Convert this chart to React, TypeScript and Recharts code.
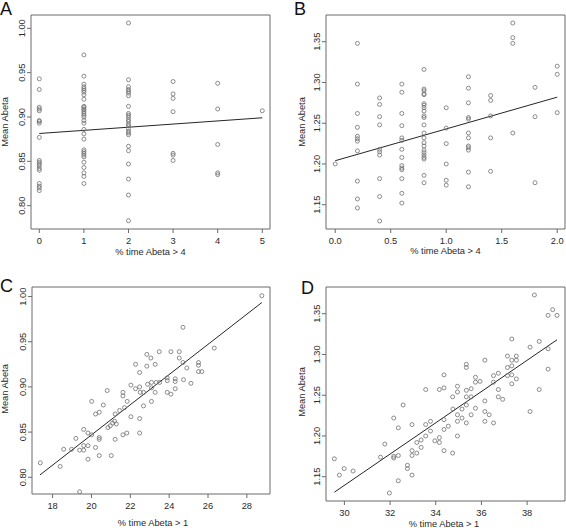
import React from 'react';
import { ScatterChart, Scatter, XAxis, YAxis, ReferenceArea, ReferenceLine } from 'recharts';

// ---------- data ----------
// Panel A: % time Abeta > 4 (integer groups) vs Mean Abeta
const aGroups = [0, 1, 2, 3, 4, 5];
const aValues = [
  [0.943, 0.931, 0.911, 0.909, 0.907, 0.896, 0.895, 0.893, 0.877, 0.851, 0.849, 0.847, 0.845, 0.842, 0.840, 0.825, 0.822, 0.820, 0.817],
  [0.970, 0.946, 0.937, 0.934, 0.932, 0.930, 0.928, 0.925, 0.920, 0.912, 0.911, 0.909, 0.908, 0.906, 0.904, 0.902, 0.900, 0.896, 0.893, 0.886, 0.881, 0.875, 0.863, 0.861, 0.859, 0.857, 0.855, 0.849, 0.843, 0.837, 0.833, 0.825],
  [1.006, 0.942, 0.934, 0.931, 0.929, 0.927, 0.924, 0.912, 0.904, 0.902, 0.900, 0.897, 0.895, 0.892, 0.890, 0.887, 0.884, 0.882, 0.880, 0.867, 0.862, 0.847, 0.830, 0.812, 0.783],
  [0.940, 0.926, 0.921, 0.906, 0.859, 0.857, 0.851],
  [0.938, 0.909, 0.869, 0.837, 0.835],
  [0.907],
];
const aFit = [0, 0.8814, 5, 0.8991];

// Panel B
const bGroups = [0, 0.2, 0.4, 0.6, 0.8, 1.0, 1.2, 1.4, 1.6, 1.8, 2.0];
const bValues = [
  [1.200],
  [1.348, 1.298, 1.262, 1.245, 1.234, 1.231, 1.228, 1.216, 1.179, 1.157, 1.146],
  [1.281, 1.273, 1.258, 1.248, 1.218, 1.215, 1.211, 1.182, 1.160, 1.130],
  [1.298, 1.288, 1.262, 1.247, 1.232, 1.229, 1.218, 1.208, 1.198, 1.195, 1.193, 1.182, 1.164, 1.152],
  [1.316, 1.292, 1.290, 1.286, 1.285, 1.274, 1.272, 1.269, 1.265, 1.259, 1.257, 1.248, 1.238, 1.232, 1.226, 1.222, 1.217, 1.214, 1.211, 1.208, 1.206, 1.186, 1.177],
  [1.269, 1.244, 1.225, 1.200, 1.180, 1.174],
  [1.307, 1.293, 1.275, 1.257, 1.255, 1.238, 1.232, 1.222, 1.220, 1.217, 1.190, 1.172],
  [1.284, 1.278, 1.259, 1.232, 1.191],
  [1.373, 1.355, 1.348, 1.238],
  [1.294, 1.258, 1.177],
  [1.320, 1.310, 1.263],
];
const bFit = [0, 1.204, 2, 1.282];

// Panel C: % time Abeta > 1 vs Mean Abeta
const cPoints = [
  [17.37, 0.816], [18.39, 0.812], [18.57, 0.831], [18.98, 0.831], [19.20, 0.843], [19.39, 0.830], [19.39, 0.784],
  [19.60, 0.853], [19.60, 0.835], [19.60, 0.830], [19.82, 0.849], [19.82, 0.835], [19.82, 0.820], [20.01, 0.884],
  [20.01, 0.847], [20.21, 0.870], [20.21, 0.833], [20.40, 0.872], [20.40, 0.844], [20.40, 0.842], [20.40, 0.824],
  [20.61, 0.880], [20.81, 0.896], [20.85, 0.855], [20.97, 0.857], [21.02, 0.824], [21.09, 0.860], [21.19, 0.862],
  [21.22, 0.870], [21.22, 0.842], [21.28, 0.859], [21.45, 0.874], [21.62, 0.894], [21.62, 0.890], [21.62, 0.847],
  [21.70, 0.877], [21.82, 0.849], [21.84, 0.884], [22.03, 0.902], [22.03, 0.867], [22.27, 0.925], [22.27, 0.898],
  [22.48, 0.916], [22.48, 0.900], [22.48, 0.865], [22.48, 0.849], [22.51, 0.894], [22.68, 0.894], [22.68, 0.879],
  [22.85, 0.936], [22.85, 0.923], [22.89, 0.903], [28.77, 1.001], [24.71, 0.966], [26.32, 0.943], [23.49, 0.939],
  [24.09, 0.939], [24.52, 0.939], [24.52, 0.932], [23.06, 0.932], [23.28, 0.925], [24.71, 0.927], [24.91, 0.921],
  [25.51, 0.927], [25.51, 0.924], [25.51, 0.917], [25.68, 0.917], [23.09, 0.905], [23.33, 0.905], [23.51, 0.905],
  [23.90, 0.910], [23.90, 0.907], [24.31, 0.909], [24.31, 0.906], [24.74, 0.908], [25.12, 0.904], [24.31, 0.898],
  [23.90, 0.894], [24.09, 0.892], [23.28, 0.894], [23.09, 0.899], [23.09, 0.884],
];
const cFit = [17.35, 0.8026, 28.77, 0.9934];

// Panel D
const dPoints = [
  [29.56, 1.172], [29.78, 1.152], [29.99, 1.160], [30.38, 1.157], [31.58, 1.174], [31.77, 1.190], [31.97, 1.130],
  [32.16, 1.222], [32.16, 1.175], [32.16, 1.173], [32.36, 1.210], [32.36, 1.176], [32.36, 1.145], [32.57, 1.238],
  [32.76, 1.164], [32.76, 1.160], [32.96, 1.214], [32.96, 1.182], [32.96, 1.176], [32.96, 1.152], [33.17, 1.179],
  [33.17, 1.192], [33.36, 1.195], [33.36, 1.186], [33.56, 1.257], [33.56, 1.214], [33.56, 1.200], [33.77, 1.218],
  [33.77, 1.206], [33.96, 1.194], [34.16, 1.257], [34.16, 1.198], [34.16, 1.192], [34.36, 1.275], [34.36, 1.259],
  [34.36, 1.220], [34.36, 1.208], [34.36, 1.182], [34.55, 1.212], [34.74, 1.179], [34.74, 1.248], [34.75, 1.233],
  [34.95, 1.261], [34.95, 1.254], [34.95, 1.226], [34.95, 1.218], [34.95, 1.200], [35.15, 1.233], [35.15, 1.222],
  [35.34, 1.288], [35.34, 1.284], [35.34, 1.256], [35.34, 1.248], [35.34, 1.238], [35.34, 1.216], [35.55, 1.258],
  [35.55, 1.248], [35.55, 1.226], [35.74, 1.272], [35.74, 1.266], [35.74, 1.234], [35.94, 1.267], [36.15, 1.293],
  [36.15, 1.243], [36.15, 1.230], [36.15, 1.218], [36.34, 1.226], [36.53, 1.274], [36.53, 1.266], [36.53, 1.216],
  [36.74, 1.277], [36.74, 1.257], [36.74, 1.248], [36.93, 1.245], [37.14, 1.298], [37.14, 1.284], [37.14, 1.274],
  [37.33, 1.319], [37.33, 1.293], [37.33, 1.286], [37.33, 1.275], [37.33, 1.264], [37.53, 1.298], [37.53, 1.293],
  [37.53, 1.270], [38.13, 1.309], [38.13, 1.230], [38.32, 1.373], [38.53, 1.316], [38.53, 1.257], [38.92, 1.348],
  [38.92, 1.307], [38.92, 1.282], [39.12, 1.355], [39.31, 1.348],
];
const dFit = [29.56, 1.131, 39.31, 1.318];

const xTicksA = [0, 1, 2, 3, 4, 5];
const xTicksB = [0, 0.5, 1, 1.5, 2];
const xTicksC = [18, 20, 22, 24, 26, 28];
const xTicksD = [30, 32, 34, 36, 38];
const yTicksAC = [0.8, 0.85, 0.9, 0.95, 1.0];
const yTicksBD = [1.15, 1.2, 1.25, 1.3, 1.35];

const xTitle4 = '% time Abeta > 4';
const xTitle1 = '% time Abeta > 1';
const yTitle = 'Mean Abeta';

// ---------- styling ----------
const FONT = '"Liberation Sans", Arial, Helvetica, sans-serif';
const BOX = '#6a6a6a';
const TXT = '#2a2a2a';
const FS = 9.3;

const fromGroups = (groups: number[], vals: number[][]) =>
  groups.flatMap((g, i) => vals[i].map((v) => ({ x: g, y: v })));
const fromPairs = (pairs: number[][]) => pairs.map(([x, y]) => ({ x, y }));

const Circ = (props: any) => {
  if (props.cx == null || props.cy == null) return null;
  return <circle cx={props.cx} cy={props.cy} r={2} fill="none" stroke="#707070" strokeWidth={0.8} />;
};

const makeYTick = (fmt: (v: number) => string) => (p: any) => {
  const { x, y, payload } = p;
  return (
    <text
      x={x}
      y={y}
      transform={`rotate(-90 ${x} ${y})`}
      textAnchor="middle"
      fontSize={FS}
      fill={TXT}
      fontFamily={FONT}
    >
      {fmt(payload.value)}
    </text>
  );
};

type Box = { x: number; y: number; w: number; h: number };

function Panel(props: {
  box: Box;
  xDomain: [number, number];
  yDomain: [number, number];
  xTicks: number[];
  yTicks: number[];
  xFmt: (v: number) => string;
  yFmt: (v: number) => string;
  points: { x: number; y: number }[];
  fit: number[];
}) {
  const { box, xDomain, yDomain, xTicks, yTicks, xFmt, yFmt, points, fit } = props;
  const padL = 26, padT = 3, padR = 3, padB = 22;
  return (
    <div style={{ position: 'absolute', left: box.x - padL, top: box.y - padT }}>
      <ScatterChart
        width={box.w + padL + padR}
        height={box.h + padT + padB}
        margin={{ top: padT, right: padR, bottom: 0, left: 0 }}
      >
        <XAxis
          type="number"
          dataKey="x"
          domain={xDomain}
          ticks={xTicks}
          tickFormatter={xFmt}
          allowDataOverflow
          axisLine={false}
          tickLine={{ stroke: BOX }}
          tickSize={4}
          tickMargin={4}
          height={padB}
          interval={0}
          tick={{ fontSize: FS, fill: TXT, fontFamily: FONT }}
        />
        <YAxis
          type="number"
          dataKey="y"
          domain={yDomain}
          ticks={yTicks}
          width={padL}
          allowDataOverflow
          axisLine={false}
          tickLine={{ stroke: BOX }}
          tickSize={4}
          tickMargin={2}
          interval={0}
          tick={makeYTick(yFmt)}
        />
        <ReferenceArea
          x1={xDomain[0]}
          x2={xDomain[1]}
          y1={yDomain[0]}
          y2={yDomain[1]}
          fill="none"
          fillOpacity={0}
          stroke={BOX}
          strokeWidth={1}
          ifOverflow="visible"
        />
        <Scatter data={points} isAnimationActive={false} shape={Circ} />
        <ReferenceLine
          segment={[{ x: fit[0], y: fit[1] }, { x: fit[2], y: fit[3] }]}
          stroke="#262626"
          strokeWidth={1}
          ifOverflow="visible"
        />
      </ScatterChart>
    </div>
  );
}

const int = (v: number) => String(v);
const one = (v: number) => v.toFixed(1);
const two = (v: number) => v.toFixed(2);

export default function App() {
  const tStyle = { fontSize: FS, fill: TXT, fontFamily: FONT } as any;
  const lStyle = { fontSize: 18, fill: '#111', fontFamily: FONT } as any;
  return (
    <div
      style={{
        position: 'absolute',
        left: 0,
        top: 0,
        width: 566,
        height: 528,
        overflow: 'hidden',
        background: '#fff',
      }}
    >
      <Panel
        box={{ x: 31, y: 15, w: 239, h: 214 }}
        xDomain={[-0.186, 5.173]}
        yDomain={[0.7737, 1.015]}
        xTicks={xTicksA}
        yTicks={yTicksAC}
        xFmt={int}
        yFmt={two}
        points={fromGroups(aGroups, aValues)}
        fit={aFit}
      />
      <Panel
        box={{ x: 326, y: 15, w: 239, h: 214 }}
        xDomain={[-0.083, 2.07]}
        yDomain={[1.1202, 1.3828]}
        xTicks={xTicksB}
        yTicks={yTicksBD}
        xFmt={one}
        yFmt={two}
        points={fromGroups(bGroups, bValues)}
        fit={bFit}
      />
      <Panel
        box={{ x: 32, y: 287, w: 238, h: 207 }}
        xDomain={[16.94, 29.19]}
        yDomain={[0.7815, 1.0106]}
        xTicks={xTicksC}
        yTicks={yTicksAC}
        xFmt={int}
        yFmt={two}
        points={fromPairs(cPoints)}
        fit={cFit}
      />
      <Panel
        box={{ x: 326, y: 287, w: 239, h: 214 }}
        xDomain={[29.194, 39.66]}
        yDomain={[1.1202, 1.3828]}
        xTicks={xTicksD}
        yTicks={yTicksBD}
        xFmt={int}
        yFmt={two}
        points={fromPairs(dPoints)}
        fit={dFit}
      />
      <svg
        width={566}
        height={528}
        style={{ position: 'absolute', left: 0, top: 0, pointerEvents: 'none' }}
      >
        <text x={0} y={15} {...lStyle}>A</text>
        <text x={294} y={15} {...lStyle}>B</text>
        <text x={0} y={292} {...lStyle}>C</text>
        <text x={301} y={294} {...lStyle}>D</text>

        <text x={150.5} y={255} textAnchor="middle" {...tStyle}>{xTitle4}</text>
        <text x={445.5} y={254} textAnchor="middle" {...tStyle}>{xTitle4}</text>
        <text x={153} y={526} textAnchor="middle" {...tStyle}>{xTitle1}</text>
        <text x={444} y={527} textAnchor="middle" {...tStyle}>{xTitle1}</text>

        <text x={8.3} y={122} textAnchor="middle" transform="rotate(-90 8.3 122)" {...tStyle}>{yTitle}</text>
        <text x={304.5} y={122} textAnchor="middle" transform="rotate(-90 304.5 122)" {...tStyle}>{yTitle}</text>
        <text x={7.5} y={389} textAnchor="middle" transform="rotate(-90 7.5 389)" {...tStyle}>{yTitle}</text>
        <text x={304.7} y={392} textAnchor="middle" transform="rotate(-90 304.7 392)" {...tStyle}>{yTitle}</text>
      </svg>
    </div>
  );
}
